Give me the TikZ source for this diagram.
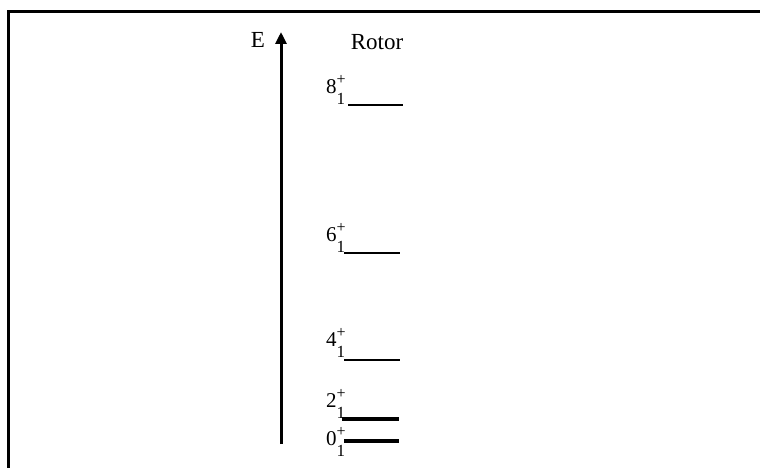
\documentclass[tikz,border=0pt]{standalone}
\usepackage{fontspec}
\setmainfont{Liberation Serif}
\usetikzlibrary{arrows.meta}
\newcommand\lvlabel[1]{#1\rlap{\raisebox{9pt}{\fontsize{16}{16}\selectfont +}}\raisebox{-11pt}{\fontsize{17}{17}\selectfont 1}}
\tikzset{
  frame/.style={line width=3pt},
  axis/.style={line width=3pt,-{Triangle[length=12pt,width=11pt]}},
  lev/.style={line width=2pt},
  levthick/.style={line width=3.5pt},
  lab/.style={inner sep=0pt,anchor=base west,font=\fontsize{21}{23}\selectfont},
  head/.style={inner sep=0pt,anchor=base,font=\fontsize{23}{25}\selectfont}
}
\begin{document}
\begin{tikzpicture}[x=1pt,y=-1pt]
\useasboundingbox (0,0) rectangle (760,468);
\fill[white] (0,0) rectangle (760,468);
% frame
\coordinate (fr1) at (760,12);
\coordinate (fr2) at (8,12);
\coordinate (fr3) at (8,468);
\draw[frame] (fr1) -- (fr2) -- (fr3);
% axis
\coordinate (abot) at (281,444);
\coordinate (atop) at (281,32);
\draw[axis] (abot) -- (atop);
\node[head] (E) at (258,48) {E};
\node[head] (rotor) at (377,50) {Rotor};
% levels
\node[lab] (l8) at (326,94) {\lvlabel{8}};
\coordinate (a8) at (348,105); \coordinate (b8) at (403,105);
\draw[lev] (a8) -- (b8);
\node[lab] (l6) at (326,241) {\lvlabel{6}};
\coordinate (a6) at (344,253); \coordinate (b6) at (400,253);
\draw[lev] (a6) -- (b6);
\node[lab] (l4) at (326,346) {\lvlabel{4}};
\coordinate (a4) at (344,360); \coordinate (b4) at (400,360);
\draw[lev] (a4) -- (b4);
\node[lab] (l2) at (326,407) {\lvlabel{2}};
\coordinate (a2) at (342,419); \coordinate (b2) at (399,419);
\draw[levthick] (a2) -- (b2);
\node[lab] (l0) at (326,445) {\lvlabel{0}};
\coordinate (a0) at (344,441); \coordinate (b0) at (399,441);
\draw[levthick] (a0) -- (b0);
\end{tikzpicture}
\end{document}
